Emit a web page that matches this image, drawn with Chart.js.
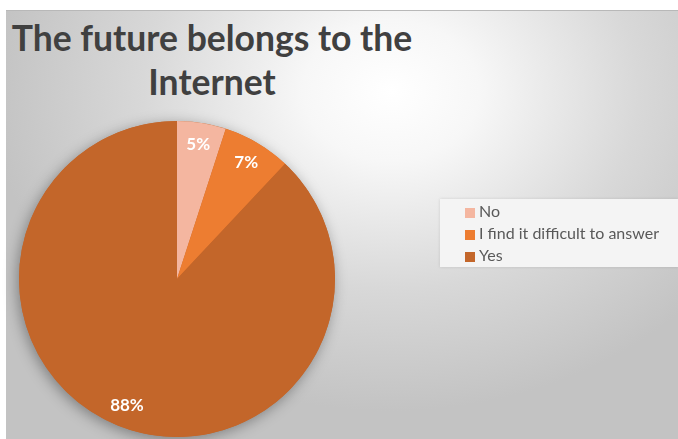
<!DOCTYPE html>
<html>
<head>
<meta charset="utf-8">
<script src="https://cdn.jsdelivr.net/npm/chart.js@4.4.1/dist/chart.umd.min.js"></script>
<style>
  html, body { margin: 0; padding: 0; background: #ffffff; }
  #wrap { position: relative; width: 678px; height: 439px; overflow: hidden; }
  #bg {
    position: absolute; left: 6px; top: 10px; width: 672px; height: 429px;
    background: radial-gradient(ellipse 400px 320px at 385px 80px, #ffffff 0%, #f7f7f7 22%, #d8d8d8 62%, #c3c3c3 100%);
    border-top: 1px solid #b8b8b8;
  }
  #title {
    position: absolute; left: 6px; top: 16px; width: 412px;
    text-align: center; font-family: Lato, "Open Sans", sans-serif; font-weight: bold;
    font-size: 35.5px; line-height: 44px; color: #404040; white-space: nowrap;
  }
  #legend {
    position: absolute; left: 440px; top: 199px; width: 238px; height: 68px;
    background: #f4f4f4; box-shadow: 0 0 3px rgba(0,0,0,0.12);
    font-family: Lato, "Open Sans", sans-serif; font-size: 16px; color: #595959;
  }
  .item { position: absolute; left: 25px; height: 22px; line-height: 22px; white-space: nowrap; }
  .item span { display: inline-block; width: 10px; height: 10px; margin-right: 4px; vertical-align: -1px; }
  canvas { position: absolute; left: 0; top: 0; }
</style>
</head>
<body>
<div id="wrap">
  <div id="bg"></div>
  <div id="title">The future belongs to the<br>Internet</div>
  <canvas id="pie" width="678" height="439"></canvas>
  <div id="legend"></div>
</div>
<script>
var labels = ['No', 'I find it difficult to answer', 'Yes'];
var values = [5, 7, 88];
var colors = ['#F4B6A0', '#ED7D31', '#C3662A'];

// soft shadow under the pie
var pieShadow = {
    id: 'pieShadow',
    beforeDatasetsDraw: function (chart) {
        var arc = chart.getDatasetMeta(0).data[0];
        if (!arc) return;
        var ctx = chart.ctx;
        ctx.save();
        ctx.shadowColor = 'rgba(0,0,0,0.35)';
        ctx.shadowBlur = 14;
        ctx.shadowOffsetX = -2;
        ctx.shadowOffsetY = 3;
        ctx.fillStyle = colors[2];
        ctx.beginPath();
        ctx.arc(arc.x, arc.y, arc.outerRadius, 0, Math.PI * 2);
        ctx.fill();
        ctx.restore();
    }
};

// percent labels near the outer edge
var pctLabels = {
    id: 'pctLabels',
    afterDatasetsDraw: function (chart) {
        var ctx = chart.ctx;
        var meta = chart.getDatasetMeta(0);
        ctx.save();
        ctx.fillStyle = '#ffffff';
        ctx.font = 'bold 17px Lato, "Open Sans", sans-serif';
        ctx.textAlign = 'center';
        ctx.textBaseline = 'middle';
        meta.data.forEach(function (arc, i) {
            var mid = (arc.startAngle + arc.endAngle) / 2;
            var r = arc.outerRadius * 0.86;
            ctx.fillText(values[i] + '%', arc.x + Math.cos(mid) * r, arc.y + Math.sin(mid) * r);
        });
        ctx.restore();
    }
};

var ctx = document.getElementById('pie');
var myChart = new Chart(ctx, {
    type: 'pie',
    data: {
        labels: labels,
        datasets: [{
            data: values,
            backgroundColor: colors,
            borderWidth: 0
        }]
    },
    options: {
        responsive: false,
        animation: false,
        layout: {
            padding: { left: 19, right: 343, top: 121, bottom: 2 }
        },
        plugins: {
            legend: { display: false },
            tooltip: { enabled: false },
            title: { display: false }
        }
    },
    plugins: [pieShadow, pctLabels]
});

// legend box on the right
var s = '';
for (let i = 0; i < labels.length; i++) {
    s = s + '<div class="item" style="top:' + (1 + i * 22) + 'px">' +
        '<span style="background:' + colors[i] + '"></span>' + labels[i] + '</div>';
}
document.getElementById('legend').innerHTML = s;
</script>
</body>
</html>
